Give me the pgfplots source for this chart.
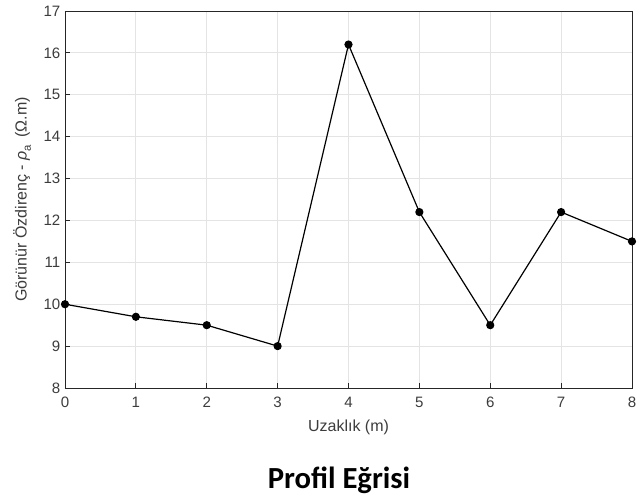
\documentclass[border=0pt]{standalone}
\usepackage{pgfplots}
\pgfplotsset{compat=1.18}
\usepackage{fontspec}
\setmainfont{Liberation Sans}
\newfontfamily\titlefont{Carlito}
\definecolor{axgray}{RGB}{38,38,38}
\definecolor{labgray}{RGB}{60,60,60}
\definecolor{gridgray}{RGB}{228,228,228}
\begin{document}
\begin{tikzpicture}
\useasboundingbox (-48.75pt,-81.75pt) rectangle (432.75pt,291pt);
\begin{axis}[
  scale only axis,
  width=425.25pt, height=282.75pt,
  at={(0pt,0pt)}, anchor=south west,
  xmin=0, xmax=8, ymin=8, ymax=17,
  xtick={0,...,8}, ytick={8,...,17},
  grid=major,
  major grid style={gridgray, line width=0.6pt},
  axis line style={axgray, line width=0.6pt},
  tick style={axgray, line width=0.6pt},
  tick align=inside,
  major tick length=4pt,
  xtick pos=bottom, ytick pos=left,
  tick label style={font=\fontsize{11.3}{13}\selectfont, text=labgray},
  xticklabel style={yshift=-3.5pt},
  /pgf/number format/assume math mode=true,
  label style={font=\fontsize{12}{14}\selectfont, text=labgray},
  xlabel={Uzaklık (m)},
  ylabel={Görünür Özdirenç - {\itshape ρ}\raisebox{-0.5ex}{\fontsize{8.5}{9}\selectfont a}\hspace{0.45em}(Ω.m)},
  xlabel style={at={(axis description cs:0.5,-0.1034)}, anchor=center},
  ylabel style={at={(axis description cs:-0.0758,0.5)}, anchor=center},
  clip=false,
]
\addplot[black, line width=0.9pt, mark=*, mark size=2.6pt, mark options={fill=black}]
coordinates {(0,10) (1,9.7) (2,9.5) (3,9) (4,16.2) (5,12.2) (6,9.5) (7,12.2) (8,11.5)};
\end{axis}
\node[anchor=base, font=\titlefont\fontsize{23}{26}\selectfont\bfseries] at (205.5pt,-75pt) {Profil Eğrisi};
\end{tikzpicture}
\end{document}
